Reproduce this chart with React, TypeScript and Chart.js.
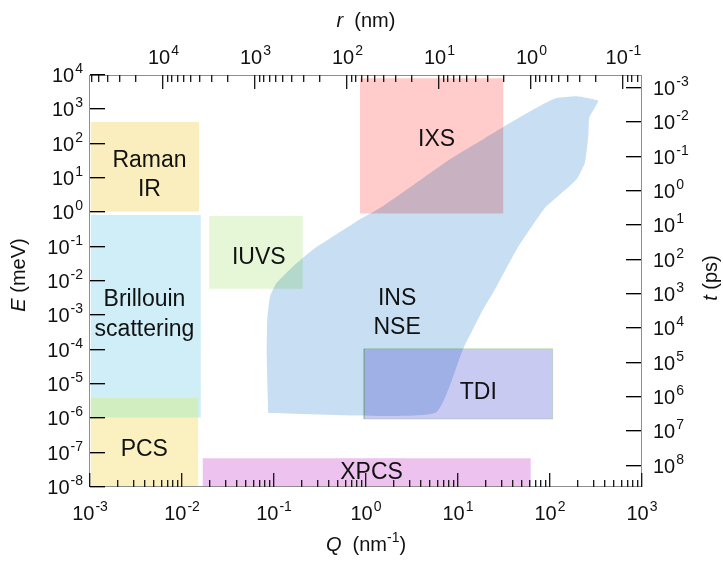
import React, { useEffect, useRef } from "react";
import { Chart, registerables } from "chart.js";

// ---------- axis ranges & conversions ----------
const qRange = [1e-3, 1e3]; // Q (nm^-1)
const eRange = [1e-8, 1e4]; // E (meV)
const PLANCK_MEV_PS = 4.1357; // t (ps) = h / E
const R_FACTOR = 62.83; // r (nm) = 20π / Q

// ---------- tick labels (powers of ten) ----------
const qTickExps = [-3, -2, -1, 0, 1, 2, 3];
const eTickExps = [4, 3, 2, 1, 0, -1, -2, -3, -4, -5, -6, -7, -8];
const rTickExps = [4, 3, 2, 1, 0, -1];
const tTickExps = [-3, -2, -1, 0, 1, 2, 3, 4, 5, 6, 7, 8];

// ---------- rectangular technique regions ----------
const rectNames = ["Raman IR", "Brillouin", "PCS", "IUVS", "IXS", "TDI", "XPCS"];
const rectQMin = [1.02e-3, 1.02e-3, 1.02e-3, 0.0198, 0.86, 0.95, 0.0168];
const rectQMax = [0.0153, 0.016, 0.015, 0.205, 31, 107, 61.7];
const rectEMin = [1.05, 1.05e-6, 1e-8, 0.0059, 0.93, 9.5e-7, 1e-8];
const rectEMax = [428, 0.84, 3.95e-6, 0.78, 8000, 1.07e-4, 6.9e-8];
const rectFill = ["#faeebe", "#d0eef8", "#faf0c0", "#e5f7d6", "#ffcbcb", "#c9caf1", "#edc2ee"];
const rectBlend = ["multiply", "darken", "darken", "multiply", "multiply", "multiply", "multiply"];
const rectStroke = [
  "rgba(0,0,0,0)",
  "rgba(0,0,0,0)",
  "rgba(0,0,0,0)",
  "rgba(0,0,0,0)",
  "rgba(0,0,0,0)",
  "#d9f3c9",
  "rgba(0,0,0,0)",
];

// ---------- INS / NSE region outline ----------
const insQ = [
  0.0867, 0.0834, 0.0845, 0.0906, 0.107, 0.162, 0.267, 0.861, 1.54, 3.56, 8.18, 18.8, 43.4, 84.5,
  118, 195, 335, 308, 267, 261, 240, 195, 129, 88.3, 71.6, 43.4, 25.2, 18.7, 11.3, 5.62, 0.0867,
];
const insE = [
  1.42e-6, 6.4e-5, 7.5e-4, 3.6e-3, 8.9e-3, 0.027, 0.083, 0.625, 1.53, 7.36, 35.2, 135, 519, 1422,
  2128, 2388, 1778, 1140, 582, 169, 28.2, 9.2, 3.36, 1.37, 0.625, 0.083, 5.65e-3, 1.47e-3, 1e-4,
  1.42e-6, 1.42e-6,
];
const insFill = "#c8dff3";

// ---------- region labels ----------
const labelLines = [
  ["Raman", "IR"],
  ["Brillouin", "scattering"],
  ["PCS"],
  ["IUVS"],
  ["IXS"],
  ["INS", "NSE"],
  ["TDI"],
  ["XPCS"],
];
const labelQ = [0.00443, 0.00391, 0.00389, 0.0684, 5.86, 2.18, 16.6, 1.15];
const labelE = [13.6, 1.17e-3, 1.35e-7, 0.0546, 148.6, 1.31e-3, 6.4e-6, 3.0e-8];

const FONT_FAMILY = '"Liberation Sans", Arial, Helvetica, sans-serif';
const BASE_FONT = `20px ${FONT_FAMILY}`;
const SUP_FONT = `14px ${FONT_FAMILY}`;
const ITALIC_FONT = `italic 20px ${FONT_FAMILY}`;
const LABEL_FONT = `23px ${FONT_FAMILY}`;

// per-dataset blend mode; registered before the built-ins so it wraps the Filler drawing
const blendPlugin = {
  id: "blendRegions",
  beforeDatasetDraw(chart: any, args: any) {
    const ds = chart.data.datasets[args.index];
    chart.ctx.save();
    chart.ctx.globalCompositeOperation = ds.blendMode || "multiply";
  },
  afterDatasetDraw(chart: any) {
    chart.ctx.restore();
  },
};

Chart.register(blendPlugin as any);
Chart.register(...registerables);

function drawPow(ctx: CanvasRenderingContext2D, exp: number, x: number, baseline: number, align: string) {
  ctx.font = BASE_FONT;
  const w1 = ctx.measureText("10").width;
  ctx.font = SUP_FONT;
  const s = String(exp);
  const w2 = ctx.measureText(s).width;
  const total = w1 + 1 + w2;
  let x0 = x;
  if (align === "center") x0 = x - total / 2;
  else if (align === "right") x0 = x - total;
  ctx.textAlign = "left";
  ctx.textBaseline = "alphabetic";
  ctx.font = BASE_FONT;
  ctx.fillText("10", x0, baseline);
  ctx.font = SUP_FONT;
  ctx.fillText(s, x0 + w1 + 1, baseline - 9);
}

function drawPieces(ctx: CanvasRenderingContext2D, pieces: [string, string, number][], cx: number, baseline: number) {
  let total = 0;
  for (const [t, f] of pieces) {
    ctx.font = f;
    total += ctx.measureText(t).width;
  }
  let x = cx - total / 2;
  ctx.textAlign = "left";
  ctx.textBaseline = "alphabetic";
  for (const [t, f, dy] of pieces) {
    ctx.font = f;
    ctx.fillText(t, x, baseline + dy);
    x += ctx.measureText(t).width;
  }
}

function logTicks(min: number, max: number) {
  const majors: number[] = [];
  const minors: number[] = [];
  const e0 = Math.floor(Math.log10(min)) - 1;
  const e1 = Math.ceil(Math.log10(max)) + 1;
  for (let e = e0; e <= e1; e++) {
    for (let m = 1; m <= 9; m++) {
      const v = m * Math.pow(10, e);
      if (v < min * 0.9999 || v > max * 1.0001) continue;
      if (m === 1) majors.push(v);
      else minors.push(v);
    }
  }
  return { majors, minors };
}

// vertical / horizontal tick with a soft second pixel (~1.4px look)
function vTick(ctx: CanvasRenderingContext2D, x: number, y: number, len: number) {
  ctx.globalAlpha = 1;
  ctx.fillRect(x, y, 1, len);
  ctx.globalAlpha = 0.35;
  ctx.fillRect(x + 1, y, 1, len);
  ctx.globalAlpha = 1;
}
function hTick(ctx: CanvasRenderingContext2D, x: number, y: number, len: number) {
  ctx.globalAlpha = 1;
  ctx.fillRect(x, y, len, 1);
  ctx.globalAlpha = 0.35;
  ctx.fillRect(x, y + 1, len, 1);
  ctx.globalAlpha = 1;
}

const axesPlugin = {
  id: "axesDecor",
  afterDraw(chart: any) {
    const ctx: CanvasRenderingContext2D = chart.ctx;
    const a = chart.chartArea;
    const sx = chart.scales.x;
    const sy = chart.scales.y;
    const sx2 = chart.scales.x2;
    const sy2 = chart.scales.y2;
    ctx.save();
    ctx.globalCompositeOperation = "source-over";
    ctx.globalAlpha = 1;

    const L = Math.round(a.left);
    const R = Math.round(a.right);
    const T = Math.round(a.top);
    const B = Math.round(a.bottom);

    // frame
    ctx.fillStyle = "#8e8e8e";
    ctx.fillRect(L - 1, T, R - L + 1, 1);
    ctx.fillRect(L - 1, B - 1, R - L + 1, 1);
    ctx.fillRect(L - 1, T, 1, B - T);
    ctx.fillRect(R - 1, T, 1, B - T);

    // bottom Q ticks
    ctx.fillStyle = "#1a1a1a";
    const qt = logTicks(qRange[0], qRange[1]);
    for (const v of qt.majors) {
      const px = Math.round(sx.getPixelForValue(v)) - 1;
      vTick(ctx, px, B - 14, 14);
    }
    for (const v of qt.minors) {
      const px = Math.round(sx.getPixelForValue(v)) - 1;
      vTick(ctx, px, B - 7, 7);
    }
    // top r ticks
    const rt = logTicks(R_FACTOR / qRange[1], R_FACTOR / qRange[0]);
    for (const v of rt.majors) {
      const px = Math.round(sx2.getPixelForValue(v)) - 1;
      vTick(ctx, px, T, 14);
    }
    for (const v of rt.minors) {
      const px = Math.round(sx2.getPixelForValue(v)) - 1;
      vTick(ctx, px, T, 7);
    }
    // left E ticks
    ctx.fillStyle = "#000";
    for (const e of eTickExps) {
      const py = Math.round(sy.getPixelForValue(Math.pow(10, e))) - 1;
      hTick(ctx, L, py, 15);
    }
    // right t ticks
    for (const e of tTickExps) {
      const py = Math.round(sy2.getPixelForValue(Math.pow(10, e))) - 1;
      hTick(ctx, R - 16, py, 15);
    }

    // tick labels
    ctx.fillStyle = "#111";
    for (const e of qTickExps) {
      drawPow(ctx, e, sx.getPixelForValue(Math.pow(10, e)), 520, "center");
    }
    for (const e of rTickExps) {
      drawPow(ctx, e, sx2.getPixelForValue(Math.pow(10, e)), 64, "center");
    }
    for (const e of eTickExps) {
      drawPow(ctx, e, 83, sy.getPixelForValue(Math.pow(10, e)) + 7, "right");
    }
    for (const e of tTickExps) {
      drawPow(ctx, e, 653, sy2.getPixelForValue(Math.pow(10, e)) + 7, "left");
    }

    // axis titles
    const cx = (a.left + a.right) / 2;
    drawPieces(ctx, [["r", ITALIC_FONT, 0], ["  (nm)", BASE_FONT, 0]], cx, 27);
    drawPieces(
      ctx,
      [
        ["Q", ITALIC_FONT, 0],
        ["  (nm", BASE_FONT, 0],
        ["-1", SUP_FONT, -9],
        [")", BASE_FONT, 0],
      ],
      cx,
      551
    );
    ctx.save();
    ctx.translate(25, 275);
    ctx.rotate(-Math.PI / 2);
    drawPieces(ctx, [["E", ITALIC_FONT, 0], [" (meV)", BASE_FONT, 0]], 0, 0);
    ctx.restore();
    ctx.save();
    ctx.translate(717, 278);
    ctx.rotate(-Math.PI / 2);
    drawPieces(ctx, [["t", ITALIC_FONT, 0], [" (ps)", BASE_FONT, 0]], 0, 0);
    ctx.restore();

    // region labels
    ctx.font = LABEL_FONT;
    ctx.textAlign = "center";
    ctx.textBaseline = "alphabetic";
    ctx.fillStyle = "#111";
    const lh = 29.5;
    const capH = 16.5;
    labelLines.forEach((lines, i) => {
      const px = sx.getPixelForValue(labelQ[i]);
      const py = sy.getPixelForValue(labelE[i]);
      const n = lines.length;
      lines.forEach((t, k) => {
        const b = py + (k - (n - 1) / 2) * lh + capH / 2;
        ctx.fillText(t, px, b);
      });
    });

    ctx.restore();
  },
};

export default function App() {
  const ref = useRef<HTMLCanvasElement>(null);

  useEffect(() => {
    const canvas = ref.current;
    if (!canvas) return;

    const datasets: any[] = [];
    rectNames.forEach((name, i) => {
      const q0 = rectQMin[i];
      const q1 = rectQMax[i];
      const e0 = rectEMin[i];
      const e1 = rectEMax[i];
      datasets.push({
        label: name,
        data: [
          { x: q0, y: e0 },
          { x: q1, y: e0 },
          { x: q1, y: e1 },
          { x: q0, y: e1 },
          { x: q0, y: e0 },
        ],
        showLine: true,
        fill: "shape",
        backgroundColor: rectFill[i],
        borderColor: rectStroke[i],
        borderWidth: 1,
        pointRadius: 0,
        tension: 0,
        blendMode: rectBlend[i],
      });
    });
    datasets.push({
      label: "INS NSE",
      data: insQ.map((q, i) => ({ x: q, y: insE[i] })),
      showLine: true,
      fill: "shape",
      backgroundColor: insFill,
      borderColor: "rgba(0,0,0,0)",
      borderWidth: 1,
      pointRadius: 0,
      tension: 0.15,
      blendMode: "multiply",
    });

    const chart = new Chart(canvas, {
      type: "scatter",
      data: { datasets },
      options: {
        responsive: true,
        maintainAspectRatio: false,
        animation: false,
        events: [],
        layout: { padding: 0 },
        plugins: {
          legend: { display: false },
          tooltip: { enabled: false },
          title: { display: false },
        },
        scales: {
          x: {
            type: "logarithmic",
            position: "bottom",
            min: qRange[0],
            max: qRange[1],
            ticks: { display: false },
            grid: { display: false },
            border: { display: false },
            afterFit: (s: any) => {
              s.height = 74;
            },
          },
          x2: {
            type: "logarithmic",
            position: "top",
            min: R_FACTOR / qRange[1],
            max: R_FACTOR / qRange[0],
            reverse: true,
            ticks: { display: false },
            grid: { display: false },
            border: { display: false },
            afterFit: (s: any) => {
              s.height = 75;
            },
          },
          y: {
            type: "logarithmic",
            position: "left",
            min: eRange[0],
            max: eRange[1],
            ticks: { display: false },
            grid: { display: false },
            border: { display: false },
            afterFit: (s: any) => {
              s.width = 90;
            },
          },
          y2: {
            type: "logarithmic",
            position: "right",
            min: PLANCK_MEV_PS / eRange[1],
            max: PLANCK_MEV_PS / eRange[0],
            reverse: true,
            ticks: { display: false },
            grid: { display: false },
            border: { display: false },
            afterFit: (s: any) => {
              s.width = 81;
            },
          },
        },
      } as any,
      plugins: [axesPlugin],
    });

    return () => chart.destroy();
  }, []);

  return (
    <div style={{ position: "fixed", left: 0, top: 0, width: 723, height: 561, background: "#fff" }}>
      <canvas ref={ref} />
    </div>
  );
}
